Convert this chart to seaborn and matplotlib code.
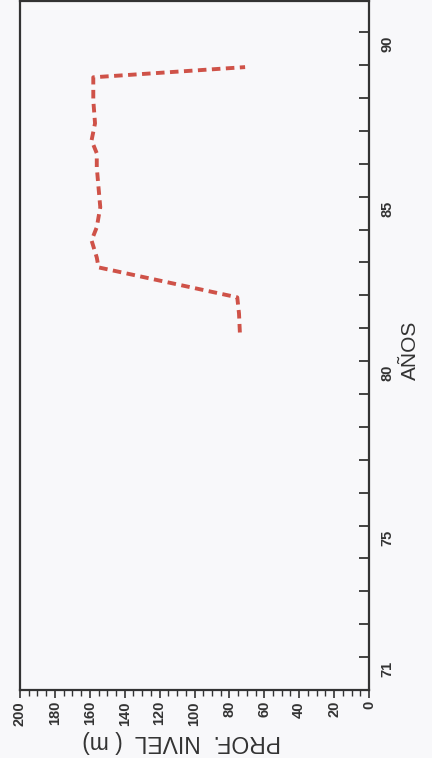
import matplotlib
matplotlib.use("Agg")
import matplotlib.pyplot as plt
import matplotlib.transforms as mtransforms
from matplotlib.ticker import FixedLocator, MultipleLocator
import seaborn as sns
import pandas as pd

# ---- data (read from the scanned, rotated chart) ----
years = [80.87, 81.45, 81.94, 82.85, 83.15, 83.67, 84.07, 84.68, 85.28,
         85.89, 86.32, 86.71, 87.23, 87.93, 88.63, 88.94]
depth_m = [74.0, 74.5, 75.5, 155.0, 156.0, 159.0, 156.0, 154.0, 155.0,
           156.0, 156.0, 159.0, 157.0, 158.0, 158.0, 71.0]
year_ticks = [71, 75, 80, 85, 90]
year_labels = ["71", "75", "80", "85", "90"]
depth_ticks = [0, 20, 40, 60, 80, 100, 120, 140, 160, 180, 200]
x_label = "PROF.  NIVEL  ( m)"
y_label = "AÑOS"

sns.set_style("ticks")
plt.rcParams["font.family"] = ["Liberation Sans", "DejaVu Sans"]

W, H = 432, 758
fig = plt.figure(figsize=(W / 100, H / 100), dpi=100)
bg = "#f8f8fa"
fig.patch.set_facecolor(bg)

L, R, T, B = 20, 369, 1, 690
ax = fig.add_axes([L / W, (H - B) / H, (R - L) / W, (B - T) / H])
ax.set_facecolor(bg)

df = pd.DataFrame({"depth": depth_m, "year": years})
sns.lineplot(data=df, x="depth", y="year", sort=False, estimator=None,
             orient="y", color="#cf5248", linewidth=2.8,
             linestyle=(0, (2.2, 1.4)), ax=ax)

ax.set_xlim(200, 0)
ax.set_ylim(70, 90.95)

# depth axis (bottom)
ax.xaxis.set_major_locator(FixedLocator(depth_ticks))
ax.xaxis.set_minor_locator(MultipleLocator(5))
ax.set_xticklabels([str(t) for t in depth_ticks], rotation=90,
                   fontsize=10.5, fontweight="bold", color="#333333")
ax.tick_params(axis="x", which="major", direction="out", length=6,
               width=1.2, pad=2, colors="#333333")
ax.tick_params(axis="x", which="minor", direction="out", length=4,
               width=1.0, colors="#333333")

# year axis (right)
ax.yaxis.tick_right()
ax.yaxis.set_major_locator(FixedLocator(year_ticks))
ax.yaxis.set_minor_locator(MultipleLocator(1))
ax.set_yticklabels(year_labels, rotation=90, fontsize=10.5,
                   fontweight="bold", color="#333333")
ax.tick_params(axis="y", which="both", direction="in", length=7,
               width=1.3, pad=8, colors="#333333",
               left=False, right=True, labelleft=False, labelright=True)
for lab in ax.get_yticklabels():
    lab.set_verticalalignment("center")
    lab.set_horizontalalignment("left")

offset = mtransforms.ScaledTranslation(0, -12 / 100, fig.dpi_scale_trans)
for lab in ax.get_yticklabels():
    lab.set_transform(lab.get_transform() + offset)

for s in ax.spines.values():
    s.set_linewidth(1.6)
    s.set_color("#333333")

ax.set_xlabel(x_label, rotation=180, fontsize=16.5, color="#333333",
              ha="center", va="center")
ax.xaxis.set_label_coords((182 - L) / (R - L), (B - 742) / (B - T))
ax.set_ylabel(y_label, rotation=90, fontsize=15, color="#333333",
              ha="center", va="center")
ax.yaxis.set_label_position("right")
ax.yaxis.label.set_verticalalignment("center")
ax.yaxis.set_label_coords((410 - L) / (R - L), (B - 350) / (B - T))

fig.savefig("out.png", dpi=100, facecolor=bg)
